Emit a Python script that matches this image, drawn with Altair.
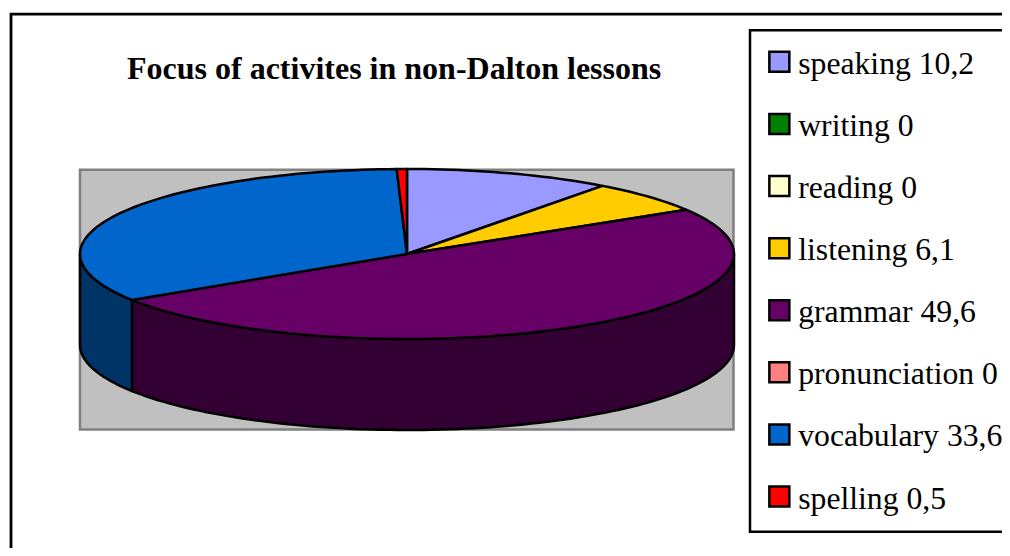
import math
import altair as alt
import pandas as pd

names = ["speaking", "writing", "reading", "listening", "grammar", "pronunciation", "vocabulary", "spelling"]
value_text = ["10,2", "0", "0", "6,1", "49,6", "0", "33,6", "0,5"]
values = [10.2, 0, 0, 6.1, 49.6, 0, 33.6, 0.5]
colors = ["#9999FF", "#008000", "#FFFFCC", "#FFCC00", "#660066", "#FF8080", "#0066CC", "#FF0000"]
wall_colors = ["#4C4C80", "#004000", "#808066", "#806600", "#330033", "#804040", "#003366", "#800000"]
labels = [f"{n} {t}" for n, t in zip(names, value_text)]

W, H = 994, 540
CX, CY, RX, RY, DEPTH = 399, 246, 327, 85, 91


def pt(deg, drop=0):
    r = math.radians(deg)
    return CX + RX * math.sin(r), CY - RY * math.cos(r) + drop


top_rows, wall_rows = [], []
start = 0.0
for label, v, wc in zip(labels, values, wall_colors):
    end = start + v / sum(values) * 360
    if v > 0:
        n = max(2, int((end - start) / 1.5))
        arc = [start + (end - start) * i / n for i in range(n + 1)]
        pts = [(CX, CY)] + [pt(a) for a in arc] + [(CX, CY)]
        for i, (x, y) in enumerate(pts):
            top_rows.append(dict(label=label, x=x, y=y, o=i))
        lo, hi = max(start, 90), min(end, 270)
        if hi > lo:
            n = max(2, int((hi - lo) / 1.5))
            arc = [lo + (hi - lo) * i / n for i in range(n + 1)]
            pts = [pt(a) for a in arc] + [pt(a, DEPTH) for a in reversed(arc)]
            pts.append(pts[0])
            for i, (x, y) in enumerate(pts):
                wall_rows.append(dict(label=label, c=wc, x=x, y=y, o=i))
    start = end

X = alt.X("x:Q", scale=alt.Scale(domain=[0, W], range=[0, W], nice=False, zero=False), axis=None)
Y = alt.Y("y:Q", scale=alt.Scale(domain=[H, 0], range=[H, 0], nice=False, zero=False), axis=None)


def box(x, y, x2, y2, fill, stroke, sw):
    d = pd.DataFrame([dict(x=x, y=y, x2=x2, y2=y2)])
    return alt.Chart(d).mark_rect(fill=fill, stroke=stroke, strokeWidth=sw).encode(
        x=X, y=Y, x2="x2:Q", y2="y2:Q")


frame = box(3, 6.2, 1300, 800, "#FFFFFF", "#000000", 2.8)
plot_bg = box(72, 161.7, 725.5, 421.5, "#C0C0C0", "#808080", 2.5)
legend_box = box(742, 22.3, 1300, 523.7, "#FFFFFF", "#000000", 2.5)

walls = alt.Chart(pd.DataFrame(wall_rows)).mark_line(
    filled=True, stroke="#000000", strokeWidth=2.5, strokeJoin="round"
).encode(x=X, y=Y, order="o:Q", detail="label:N", color=alt.Color("c:N", scale=None, legend=None))

top = alt.Chart(pd.DataFrame(top_rows)).mark_line(
    filled=True, stroke="#000000", strokeWidth=2.5, strokeJoin="round"
).encode(
    x=X, y=Y, order="o:Q", detail="label:N",
    color=alt.Color(
        "label:N",
        scale=alt.Scale(domain=labels, range=colors),
        sort=None,
        legend=alt.Legend(
            title=None, orient="none", legendX=755.5, legendY=38, symbolType="square",
            symbolSize=400, symbolStrokeColor="#000000", symbolStrokeWidth=2.5,
            symbolOpacity=1, labelFont="Liberation Serif", labelFontSize=31.7, labelColor="#000000",
            labelLimit=400, labelOffset=3, rowPadding=27.1, padding=0, labelOpacity=1,
            labelBaseline="line-top",
        ),
    ),
)

chart = alt.layer(frame, plot_bg, walls, top, legend_box).properties(
    width=W, height=H, padding=0,
    autosize=alt.AutoSizeParams(type="none"),
    title=alt.TitleParams(
        "Focus of activites in non-Dalton lessons", font="Liberation Serif", fontSize=32,
        fontWeight="bold", color="#000000", anchor="start", frame="group", dx=119, dy=78, offset=0,
    ),
).resolve_scale(color="independent").configure(
    style={"guide-label": {"lineHeight": 6}},
    view=alt.ViewConfig(stroke=None),
)

chart.save("out.html", embed_options={"renderer": "svg", "actions": False})
